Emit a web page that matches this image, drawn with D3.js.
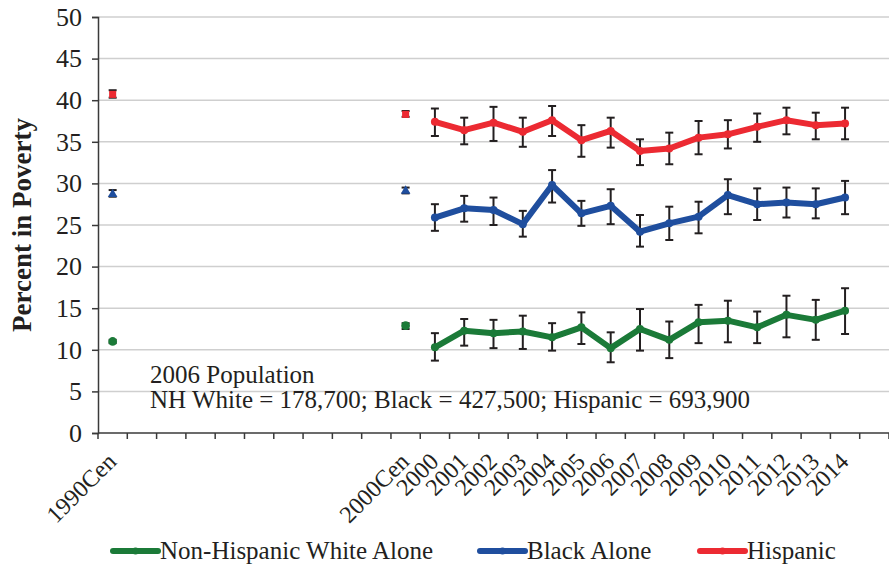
<!DOCTYPE html>
<html>
<head>
<meta charset="utf-8">
<script src="https://cdn.jsdelivr.net/npm/d3@7"></script>
<style>
  html, body { margin: 0; padding: 0; background: #fff; }
  svg { display: block; }
  svg text { font-family: "Liberation Serif", "DejaVu Serif", "Times New Roman", Times, serif; }
</style>
</head>
<body>
<svg id="chart" width="889" height="567"></svg>
<script>
// Category axis: census years, empty spacer slots, then annual estimates
const categories = ["1990Cen", "", "", "", "", "", "", "", "", "",
  "2000Cen", "2000", "2001", "2002", "2003", "2004", "2005", "2006", "2007",
  "2008", "2009", "2010", "2011", "2012", "2013", "2014", ""];

const years = ["2000", "2001", "2002", "2003", "2004", "2005", "2006", "2007",
  "2008", "2009", "2010", "2011", "2012", "2013", "2014"];

// Annual estimates (percent in poverty) with lower / upper confidence bounds
const whiteValues = [10.3, 12.3, 12.0, 12.2, 11.5, 12.7, 10.2, 12.5, 11.2, 13.3, 13.5, 12.7, 14.2, 13.6, 14.7];
const whiteLow    = [8.7, 10.5, 10.2, 10.1, 9.9, 10.7, 8.5, 9.9, 9.0, 10.8, 10.9, 10.8, 11.5, 11.2, 11.9];
const whiteHigh   = [12.0, 13.7, 13.6, 14.1, 13.2, 14.5, 12.1, 14.9, 13.4, 15.4, 15.9, 14.6, 16.5, 16.0, 17.4];

const blackValues = [25.9, 27.0, 26.8, 25.1, 29.8, 26.4, 27.3, 24.2, 25.2, 26.0, 28.6, 27.5, 27.7, 27.5, 28.3];
const blackLow    = [24.3, 25.4, 25.0, 23.6, 27.7, 24.9, 25.1, 22.4, 23.2, 24.0, 26.3, 25.6, 25.9, 25.8, 26.3];
const blackHigh   = [27.5, 28.5, 28.3, 26.7, 31.6, 27.9, 29.3, 26.2, 27.2, 27.8, 30.5, 29.4, 29.5, 29.4, 30.3];

const hispValues = [37.4, 36.4, 37.3, 36.2, 37.6, 35.2, 36.3, 33.9, 34.2, 35.5, 35.9, 36.8, 37.6, 37.0, 37.2];
const hispLow    = [35.7, 34.7, 35.1, 34.4, 35.7, 33.2, 34.3, 32.2, 32.3, 33.5, 34.2, 35.0, 35.9, 35.3, 35.3];
const hispHigh   = [39.0, 37.9, 39.2, 37.9, 39.3, 37.0, 37.9, 35.3, 36.1, 37.5, 37.6, 38.4, 39.1, 38.5, 39.1];

// Decennial census values
const censusYears = ["1990Cen", "2000Cen"];
const censusWhite     = [11.0, 12.9];
const censusWhiteLow  = [10.8, 12.5];
const censusWhiteHigh = [11.2, 13.2];
const censusBlack     = [28.7, 29.1];
const censusBlackLow  = [28.4, 28.8];
const censusBlackHigh = [29.2, 29.5];
const censusHisp      = [40.7, 38.3];
const censusHispLow   = [40.3, 38.0];
const censusHispHigh  = [41.2, 38.7];

const yTicks = [0, 5, 10, 15, 20, 25, 30, 35, 40, 45, 50];

const seriesNames = ["Non-Hispanic White Alone", "Black Alone", "Hispanic"];
const seriesColors = ["#1b7a38", "#1f4e9e", "#ec2a32"];

const annotationLines = ["2006 Population", "NH White = 178,700; Black = 427,500; Hispanic = 693,900"];

const FONT = "'Liberation Serif', 'DejaVu Serif', 'Times New Roman', Times, serif";
const svg = d3.select("#chart");
const plotLeft = 98, plotRight = 889, plotTop = 17, plotBottom = 433;

const x = d3.scaleBand().domain(d3.range(categories.length)).range([plotLeft, plotRight]).padding(0);
const cx = i => x(i) + x.bandwidth() / 2;
const y = d3.scaleLinear().domain([0, 50]).range([plotBottom, plotTop]);

// Horizontal gridlines
svg.append("g").selectAll("line").data(yTicks.filter(t => t > 0)).join("line")
  .attr("x1", plotLeft).attr("x2", plotRight)
  .attr("y1", d => y(d)).attr("y2", d => y(d))
  .attr("stroke", "#cfcfcf").attr("stroke-width", 1.5);

// Y axis
const yAxis = svg.append("g").attr("transform", `translate(${plotLeft},0)`)
  .call(d3.axisLeft(y).tickValues(yTicks).tickSize(6).tickPadding(10));
yAxis.attr("font-family", FONT).attr("font-size", 26);
yAxis.select(".domain").attr("stroke", "#3a3a3a").attr("stroke-width", 1.5);
yAxis.selectAll(".tick line").attr("stroke", "#3a3a3a").attr("stroke-width", 1.5);
yAxis.selectAll(".tick text").attr("fill", "#231f20");

// X axis: baseline, tick marks at category boundaries, rotated labels
svg.append("line").attr("x1", plotLeft).attr("x2", plotRight).attr("y1", plotBottom).attr("y2", plotBottom)
  .attr("stroke", "#3a3a3a").attr("stroke-width", 1.5);
svg.append("g").selectAll("line").data(d3.range(categories.length + 1)).join("line")
  .attr("x1", i => i < categories.length ? x(i) : plotRight)
  .attr("x2", i => i < categories.length ? x(i) : plotRight)
  .attr("y1", plotBottom).attr("y2", plotBottom + 6)
  .attr("stroke", "#3a3a3a").attr("stroke-width", 1.5);
svg.append("g").selectAll("text").data(categories.map((c, i) => ({c, i})).filter(d => d.c !== "")).join("text")
  .attr("transform", d => `translate(${cx(d.i) + 5},${plotBottom + 30}) rotate(-45)`)
  .attr("text-anchor", "end")
  .attr("font-family", FONT).attr("font-size", 24).attr("fill", "#231f20")
  .text(d => d.c);

// Y axis title
svg.append("text")
  .attr("transform", `translate(31,${(plotTop + plotBottom) / 2}) rotate(-90)`)
  .attr("text-anchor", "middle").attr("font-family", FONT).attr("font-size", 27).attr("font-weight", "bold")
  .attr("fill", "#231f20").text("Percent in Poverty");

const errColor = "#231f20";
const cap = 4;

function errorBars(g, xs, lo, hi) {
  const d = xs.map((xi, k) => ({xi, lo: lo[k], hi: hi[k]}));
  g.selectAll(null).data(d).join("line")
    .attr("x1", e => e.xi).attr("x2", e => e.xi)
    .attr("y1", e => y(e.lo)).attr("y2", e => y(e.hi))
    .attr("stroke", errColor).attr("stroke-width", 2);
  g.selectAll(null).data(d.flatMap(e => [e.lo, e.hi].map(v => ({xi: e.xi, v})))).join("line")
    .attr("x1", e => e.xi - cap).attr("x2", e => e.xi + cap)
    .attr("y1", e => y(e.v)).attr("y2", e => y(e.v))
    .attr("stroke", errColor).attr("stroke-width", 2);
}

const yearIdx = years.map(yr => categories.indexOf(yr));
const censusIdx = censusYears.map(c => categories.indexOf(c));
const yearX = yearIdx.map(cx);
const censusX = censusIdx.map(cx);

const annual = [
  {values: whiteValues, low: whiteLow, high: whiteHigh},
  {values: blackValues, low: blackLow, high: blackHigh},
  {values: hispValues, low: hispLow, high: hispHigh}
];
const census = [
  {values: censusWhite, low: censusWhiteLow, high: censusWhiteHigh, shape: d3.symbolCircle, size: 60},
  {values: censusBlack, low: censusBlackLow, high: censusBlackHigh, shape: d3.symbolTriangle, size: 40},
  {values: censusHisp, low: censusHispLow, high: censusHispHigh, shape: d3.symbolSquare, size: 50}
];

// Error bars sit beneath the lines
const eg = svg.append("g");
annual.forEach(s => errorBars(eg, yearX, s.low, s.high));
census.forEach(s => errorBars(eg, censusX, s.low, s.high));

// Annual series lines with small round markers
const line = d3.line().x((v, k) => yearX[k]).y(v => y(v));
annual.forEach((s, si) => {
  const g = svg.append("g");
  g.append("path").datum(s.values).attr("d", line)
    .attr("fill", "none").attr("stroke", seriesColors[si]).attr("stroke-width", 6)
    .attr("stroke-linejoin", "round");
  g.selectAll("circle").data(s.values).join("circle")
    .attr("cx", (v, k) => yearX[k]).attr("cy", v => y(v)).attr("r", 4)
    .attr("fill", seriesColors[si]);
});

// Census markers
census.forEach((s, si) => {
  svg.append("g").selectAll("path").data(s.values).join("path")
    .attr("d", d3.symbol().type(s.shape).size(s.size))
    .attr("transform", (v, k) => `translate(${censusX[k]},${y(v)})`)
    .attr("fill", seriesColors[si]);
});

// Annotation
svg.append("text").attr("x", 150).attr("y", 383).attr("font-family", FONT).attr("font-size", 25).attr("fill", "#231f20")
  .text(annotationLines[0]);
svg.append("text").attr("x", 150).attr("y", 408).attr("font-family", FONT).attr("font-size", 25).attr("fill", "#231f20")
  .text(annotationLines[1]);

// Legend
const legendX = [113, 480, 700];
const lg = svg.append("g");
seriesNames.forEach((name, i) => {
  const g = lg.append("g").attr("transform", `translate(${legendX[i]},551)`);
  g.append("line").attr("x1", 0).attr("x2", 45).attr("y1", 0).attr("y2", 0)
    .attr("stroke", seriesColors[i]).attr("stroke-width", 6).attr("stroke-linecap", "round");
  g.append("circle").attr("cx", 22.5).attr("cy", 0).attr("r", 3.5).attr("fill", seriesColors[i]);
  g.append("text").attr("x", 47).attr("y", 0).attr("dy", "0.33em")
    .attr("font-family", FONT).attr("font-size", 25).attr("fill", "#231f20").text(name);
});
</script>
</body>
</html>
